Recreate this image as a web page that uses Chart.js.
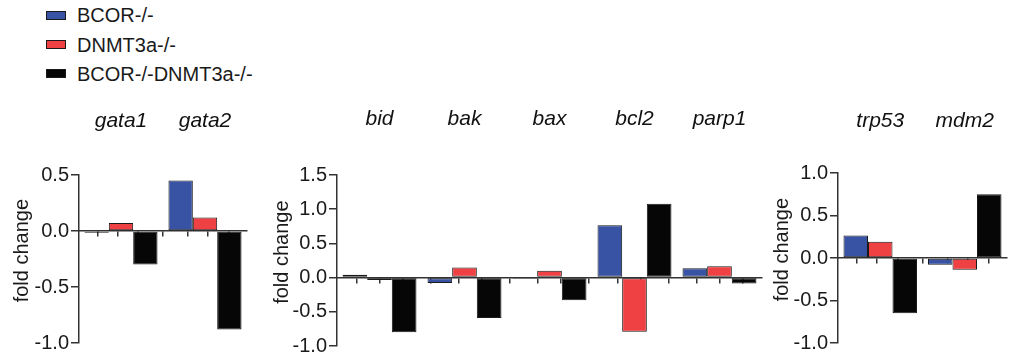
<!DOCTYPE html>
<html>
<head>
<meta charset="utf-8">
<script src="https://cdn.jsdelivr.net/npm/chart.js@4.4.1/dist/chart.umd.min.js"></script>
<style>
  body { margin: 0; background: #fff; width: 1021px; height: 363px; position: relative; overflow: hidden;
         font-family: "Liberation Sans", Arial, sans-serif; }
  canvas { position: absolute; top: 0; }
  .box { position: absolute; left: 46px; width: 18px; height: 7px; border: 1px solid #1a1a1a; }
  .lab { position: absolute; left: 77px; font-size: 20px; line-height: 20px; color: #1a1a1a; white-space: nowrap; }
</style>
</head>
<body>
<div class="box" style="top:11px;background:#3953a4"></div><div class="lab" style="top:5px">BCOR-/-</div>
<div class="box" style="top:40px;background:#ef4043"></div><div class="lab" style="top:35px">DNMT3a-/-</div>
<div class="box" style="top:69px;background:#060606"></div><div class="lab" style="top:64px">BCOR-/-DNMT3a-/-</div>

<canvas id="c1" width="255" height="363" style="left:0px"></canvas>
<canvas id="c2" width="510" height="363" style="left:260px"></canvas>
<canvas id="c3" width="261" height="363" style="left:760px"></canvas>

<script>
const seriesNames = ['BCOR-/-', 'DNMT3a-/-', 'BCOR-/-DNMT3a-/-'];
const seriesColors = ['#3953a4', '#ef4043', '#060606'];

// hematopoiesis genes
const genes1 = ['gata1', 'gata2'];
const bcor1 = [-0.015, 0.45];
const dnmt1 = [0.072, 0.12];
const dko1 = [-0.30, -0.88];

// apoptosis genes
const genes2 = ['bid', 'bak', 'bax', 'bcl2', 'parp1'];
const bcor2 = [0.04, -0.08, -0.015, 0.766, 0.137];
const dnmt2 = [-0.035, 0.146, 0.10, -0.79, 0.167];
const dko2 = [-0.80, -0.59, -0.33, 1.08, -0.088];

// p53 pathway
const genes3 = ['trp53', 'mdm2'];
const bcor3 = [0.265, -0.08];
const dnmt3 = [0.19, -0.137];
const dko3 = [-0.65, 0.75];

const yRange1 = [-1.0, 0.5];
const yRange2 = [-1.0, 1.5];
const yRange3 = [-1.0, 1.0];

const catPct = 0.87;
const axisCol = '#333';
const font = { family: '"Liberation Sans", Arial, sans-serif', size: 20 };

function makePanel(id, genes, vals, yRange, lay) {
  const n = genes.length;
  // small tick under the middle of every bar, on the zero line
  const barTicks = [];
  for (let i = 0; i < n; i++)
    for (let k = 0; k < 3; k++)
      barTicks.push({ value: i + 0.5 + (k - 1) * catPct / 3 });

  return new Chart(document.getElementById(id), {
    type: 'bar',
    data: {
      labels: genes,
      datasets: vals.map((d, k) => ({
        label: seriesNames[k],
        data: d,
        backgroundColor: seriesColors[k],
        borderColor: '#1a1a1a',
        borderWidth: 1,
        borderSkipped: false,
        categoryPercentage: catPct,
        barPercentage: 1.0,
        xAxisID: 'x',
        yAxisID: 'y'
      }))
    },
    options: {
      responsive: false,
      animation: false,
      devicePixelRatio: 1,
      layout: { padding: { left: 0, top: 0, right: lay.right, bottom: lay.bottom } },
      plugins: { legend: { display: false }, tooltip: { enabled: false } },
      scales: {
        x: {
          type: 'category',
          position: 'top',
          offset: true,
          // hidden tick length keeps the gene names well above the plot
          grid: { display: false, drawTicks: true, tickLength: lay.labPad },
          border: { display: false },
          ticks: { font: { ...font, size: 21, style: 'italic' }, color: '#111', padding: 0, maxRotation: 0 },
          afterFit: s => { s.height = lay.top; }
        },
        x2: {
          type: 'linear',
          position: { y: 0 },
          min: 0,
          max: n,
          afterBuildTicks: s => { s.ticks = barTicks.map(t => ({ ...t })); },
          ticks: { display: false },
          grid: { drawOnChartArea: false, tickLength: 5, color: axisCol, lineWidth: 1.5 },
          border: { color: axisCol, width: 1.5 }
        },
        y: {
          position: 'left',
          min: yRange[0],
          max: yRange[1],
          ticks: { stepSize: 0.5, font: font, color: '#1a1a1a', padding: 2,
                   callback: v => v.toFixed(1) },
          grid: { drawOnChartArea: false, tickLength: 8, color: axisCol, lineWidth: 1.5 },
          border: { color: axisCol, width: 1.5 },
          title: { display: true, text: '   fold change', font: font, color: '#1a1a1a',
                   padding: { top: 10, bottom: 0 } },
          afterFit: s => { s.width = lay.yw; }
        }
      }
    }
  });
}

makePanel('c1', genes1, [bcor1, dnmt1, dko1], yRange1, { yw: 79, right: 8, top: 175, bottom: 20, labPad: 41 });
makePanel('c2', genes2, [bcor2, dnmt2, dko2], yRange2, { yw: 77, right: 8, top: 175, bottom: 17, labPad: 43 });
makePanel('c3', genes3, [bcor3, dnmt3, dko3], yRange3, { yw: 78, right: 14, top: 173, bottom: 20, labPad: 39 });
</script>
</body>
</html>
